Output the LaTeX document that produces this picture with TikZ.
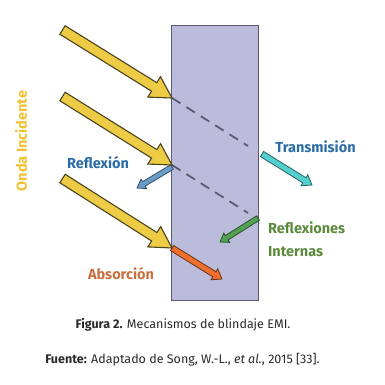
\documentclass[tikz,border=0pt]{standalone}
\usepackage{fontspec}
\setmainfont{Fira Sans}
\usetikzlibrary{calc}
\definecolor{slab}{HTML}{BBBCDC}
\definecolor{slabline}{HTML}{5A5B6E}
\definecolor{yel}{HTML}{EDCB45}
\definecolor{yelline}{HTML}{4A4420}
\definecolor{blu}{HTML}{6A9CC8}
\definecolor{bluline}{HTML}{34506E}
\definecolor{cya}{HTML}{52CFCF}
\definecolor{cyaline}{HTML}{2A6464}
\definecolor{grn}{HTML}{52A052}
\definecolor{grnline}{HTML}{2A552A}
\definecolor{org}{HTML}{EE6E30}
\definecolor{orgline}{HTML}{6A3414}
\definecolor{txtyel}{HTML}{F2C232}
\definecolor{txtblu}{HTML}{2B6CA8}
\definecolor{txtgrn}{HTML}{5B8A3C}
\definecolor{txtorg}{HTML}{C9703F}
\definecolor{capt}{HTML}{2A2A2A}
\newcommand{\blockarrow}[6]{%
  \coordinate (ba-h) at ($(#3)!#6!(#2)$);
  \draw[#1] ($(#2)!#4!90:(#3)$) -- ($(ba-h)!#4!-90:(#2)$) -- ($(ba-h)!#5!-90:(#2)$) -- (#3)
    -- ($(ba-h)!#5!90:(#2)$) -- ($(ba-h)!#4!90:(#2)$) -- ($(#2)!#4!-90:(#3)$) -- cycle;}
\begin{document}
\begin{tikzpicture}[x=1pt,y=-1pt,
  yarrow/.style={fill=yel,draw=yelline,line width=1.1pt,line join=miter},
  barrow/.style={fill=blu,draw=bluline,line width=0.8pt},
  carrow/.style={fill=cya,draw=cyaline,line width=0.8pt},
  garrow/.style={fill=grn,draw=grnline,line width=0.8pt},
  oarrow/.style={fill=org,draw=orgline,line width=0.8pt},
  inner/.style={draw=slabline,line width=1.8pt,dash pattern=on 10pt off 7pt},
  lbl/.style={font=\fontsize{14.5}{16}\selectfont\bfseries,inner sep=0pt}]
\useasboundingbox[fill=white] (0,0) rectangle (385,384);
% slab
\node[draw=slabline,fill=slab,line width=1.2pt,minimum width=87pt,minimum height=275pt,inner sep=0pt] (slab) at (215.2,163.2) {};
% coordinates
\coordinate (t1) at (62.5,30);   \coordinate (h1) at (172,98);
\coordinate (t2) at (62.5,96.5); \coordinate (h2) at (172,165);
\coordinate (t3) at (62.5,178.5);\coordinate (h3) at (172,248);
\coordinate (d1) at (248,146);
\coordinate (d2) at (248,213);
\coordinate (ts) at (262,154);   \coordinate (te) at (312,185);
\coordinate (rs) at (172,167);   \coordinate (re) at (137,188);
\coordinate (gs) at (258,218);   \coordinate (ge) at (220,242);
\coordinate (os) at (172,248);   \coordinate (oe) at (222,279);
% internal dashed paths
\draw[inner] (h1) -- (d1);
\draw[inner] (h2) -- (d2);
% arrows
\blockarrow{barrow}{rs}{re}{2.6pt}{5.5pt}{8pt}
\blockarrow{carrow}{ts}{te}{3pt}{6.5pt}{9pt}
\blockarrow{garrow}{gs}{ge}{2.6pt}{5.5pt}{8pt}
\blockarrow{oarrow}{os}{oe}{3pt}{6.5pt}{9pt}
\blockarrow{yarrow}{t1}{h1}{5pt}{12pt}{21pt}
\blockarrow{yarrow}{t2}{h2}{5pt}{12pt}{21pt}
\blockarrow{yarrow}{t3}{h3}{5pt}{12pt}{21pt}
% labels
\node[lbl,text=txtyel,rotate=90] (onda) at (21,141) {Onda Incidente};
\node[lbl,text=txtblu] (refl) at (98,163) {Reflexión};
\node[lbl,text=txtblu] (trans) at (315.5,147) {Transmisión};
\node[lbl,text=txtgrn,anchor=west] (ri1) at (268,228) {Reflexiones};
\node[lbl,text=txtgrn,anchor=west] (ri2) at (268,252) {Internas};
\node[lbl,text=txtorg] (abs) at (121,274) {Absorción};
% captions
\node[font=\fontsize{12.5}{14}\selectfont,text=capt,inner sep=0pt] (cap1) at (183,325) {\textbf{Figura 2.} Mecanismos de blindaje EMI.};
\node[font=\fontsize{12.5}{14}\selectfont,text=capt,inner sep=0pt] (cap2) at (182.5,360) {\textbf{Fuente:} Adaptado de Song, W.-L., \textit{et al.}, 2015 [33].};
\end{tikzpicture}
\end{document}
